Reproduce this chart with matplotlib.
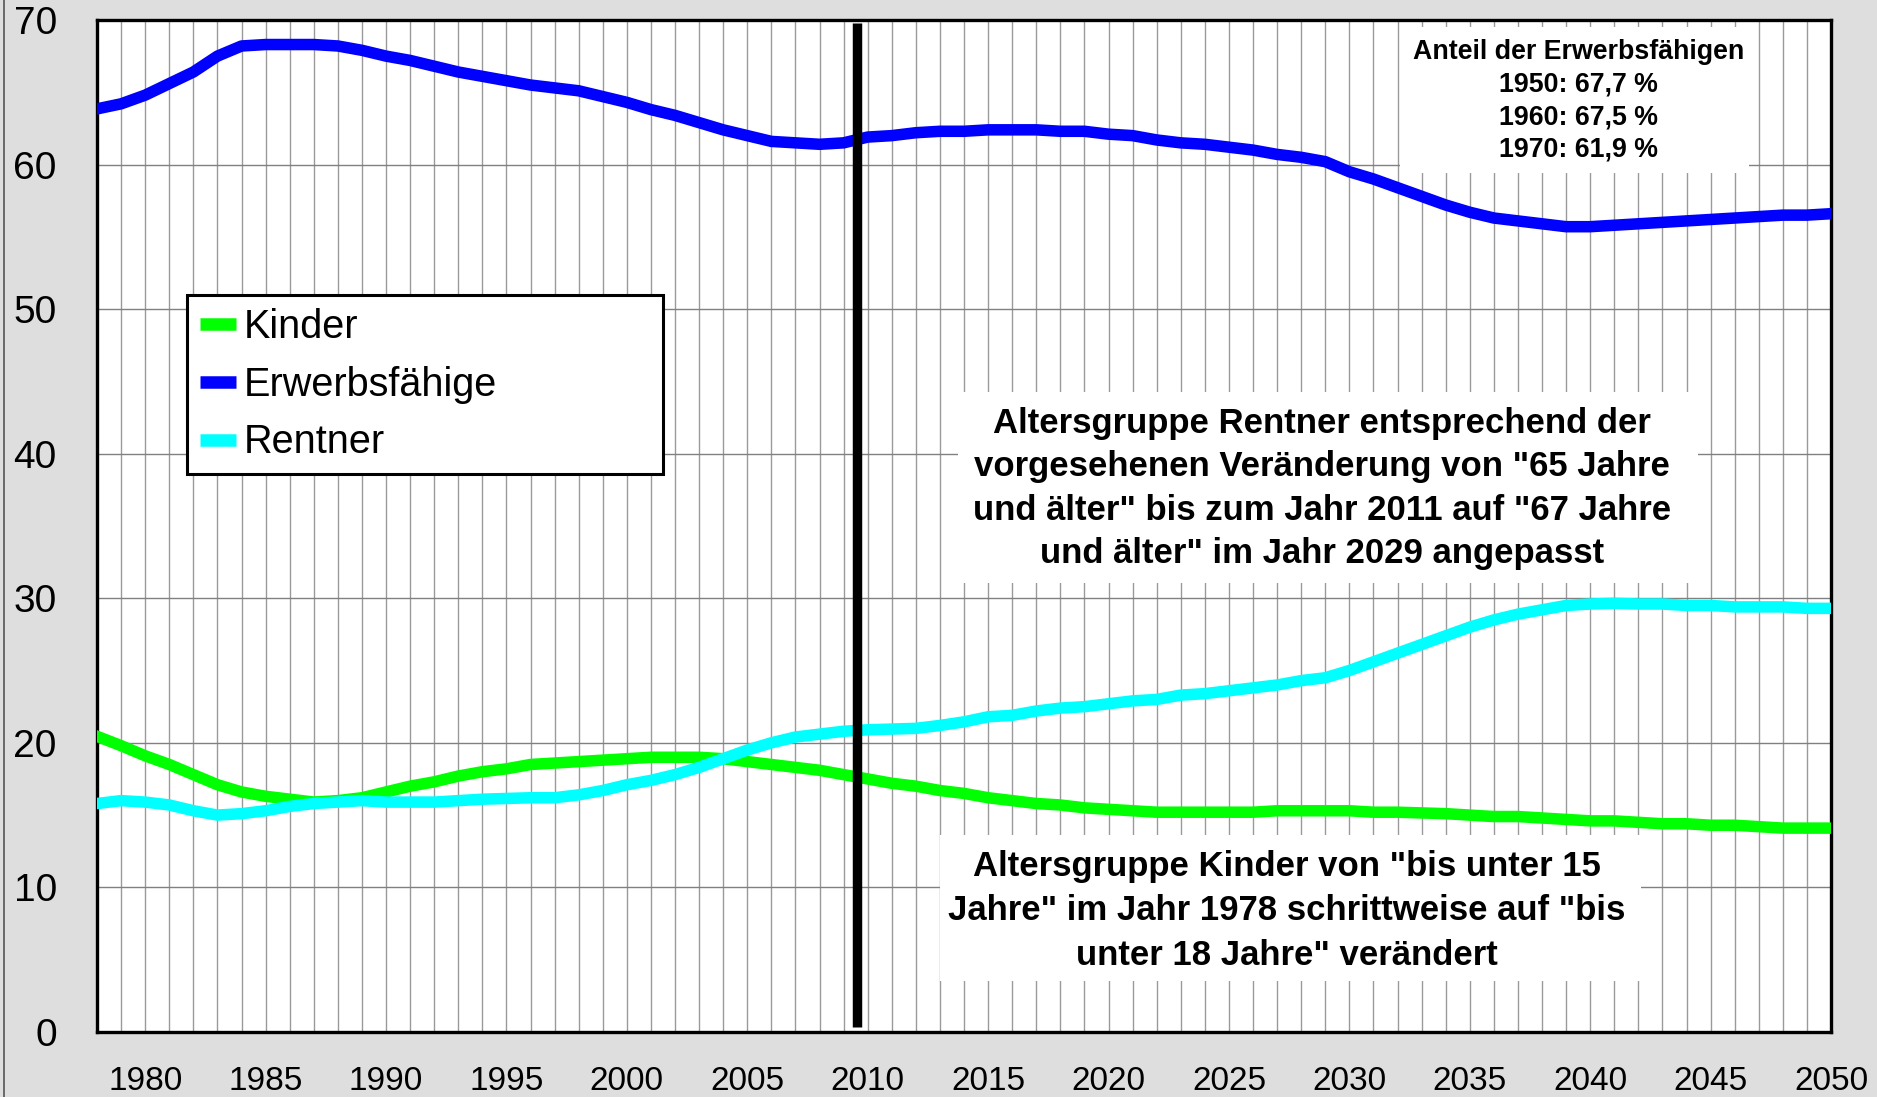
import numpy as np
import matplotlib
matplotlib.use("Agg")
import matplotlib.pyplot as plt
from matplotlib import font_manager
from matplotlib.patches import Rectangle
from matplotlib.lines import Line2D

# Anteile der Altersgruppen an der Bevölkerung in %
jahre = list(range(1978, 2051))

kinder = [20.45, 19.8, 19.1, 18.5, 17.8, 17.1, 16.6, 16.3, 16.1, 15.9,
          16.0, 16.2, 16.6, 17.0, 17.3, 17.7, 18.0, 18.2, 18.5, 18.6,
          18.7, 18.8, 18.9, 19.0, 19.0, 19.0, 18.9, 18.7, 18.5, 18.3,
          18.1, 17.8, 17.5, 17.2, 17.0, 16.7, 16.5, 16.2, 16.0, 15.8,
          15.7, 15.5, 15.4, 15.3, 15.2, 15.2, 15.2, 15.2, 15.2, 15.3,
          15.3, 15.3, 15.3, 15.2, 15.2, 15.15, 15.1, 15.0, 14.9, 14.9,
          14.8, 14.7, 14.6, 14.6, 14.5, 14.4, 14.4, 14.3, 14.3, 14.2,
          14.1, 14.1, 14.1]

erwerbsfaehige = [63.85, 64.2, 64.8, 65.6, 66.4, 67.5, 68.2, 68.3, 68.3, 68.3,
                  68.2, 67.9, 67.5, 67.2, 66.8, 66.4, 66.1, 65.8, 65.5, 65.3,
                  65.1, 64.7, 64.3, 63.8, 63.4, 62.9, 62.4, 62.0, 61.6, 61.5,
                  61.4, 61.5, 61.9, 62.0, 62.2, 62.3, 62.3, 62.4, 62.4, 62.4,
                  62.3, 62.3, 62.1, 62.0, 61.7, 61.5, 61.4, 61.2, 61.0, 60.7,
                  60.5, 60.2, 59.5, 59.0, 58.4, 57.8, 57.2, 56.7, 56.3, 56.1,
                  55.9, 55.7, 55.7, 55.8, 55.9, 56.0, 56.1, 56.2, 56.3, 56.4,
                  56.5, 56.5, 56.6]

rentner = [15.8, 16.0, 15.9, 15.7, 15.3, 15.0, 15.1, 15.3, 15.6, 15.8,
           15.9, 16.0, 15.9, 15.9, 15.9, 16.0, 16.1, 16.15, 16.2, 16.2,
           16.4, 16.7, 17.1, 17.4, 17.8, 18.3, 18.9, 19.5, 20.0, 20.4,
           20.6, 20.8, 20.9, 20.95, 21.0, 21.2, 21.45, 21.8, 21.9, 22.2,
           22.4, 22.5, 22.7, 22.9, 23.0, 23.3, 23.4, 23.6, 23.8, 24.0,
           24.3, 24.5, 25.0, 25.6, 26.2, 26.8, 27.4, 28.0, 28.5, 28.9,
           29.2, 29.5, 29.6, 29.65, 29.6, 29.6, 29.5, 29.5, 29.4, 29.4,
           29.4, 29.3, 29.3]

x_ticks = [1980, 1985, 1990, 1995, 2000, 2005, 2010, 2015, 2020, 2025,
           2030, 2035, 2040, 2045, 2050]
y_ticks = [0, 10, 20, 30, 40, 50, 60, 70]
trennjahr = 2009.57

text_anteil = "Anteil der Erwerbsfähigen\n1950: 67,7 %\n1960: 67,5 %\n1970: 61,9 %"
text_rentner = ("Altersgruppe Rentner entsprechend der\n"
                "vorgesehenen Veränderung von \"65 Jahre\n"
                "und älter\" bis zum Jahr 2011 auf \"67 Jahre\n"
                "und älter\" im Jahr 2029 angepasst")
text_kinder = ("Altersgruppe Kinder von \"bis unter 15\n"
               "Jahre\" im Jahr 1978 schrittweise auf \"bis\n"
               "unter 18 Jahre\" verändert")

plt.rcParams['font.family'] = ['Liberation Sans', 'DejaVu Sans']

# narrow font for the long notes, if available
names = {f.name for f in font_manager.fontManager.ttflist}
if 'Liberation Sans Narrow' in names:
    note_font = ['Liberation Sans Narrow', 'Liberation Sans']
    note_size = 32.5
    note_ls = 1.1
else:
    note_font = ['Liberation Sans', 'DejaVu Sans']
    note_size = 25
    note_ls = 1.4

BG = '#dedede'
fig = plt.figure(figsize=(18.77, 10.97), dpi=100, facecolor=BG)
ax = fig.add_axes([0.0517, 0.0593, 0.9238, 0.9225])
ax.set_facecolor('white')

ax.plot(jahre, kinder, color='#00ff00', lw=8.3, label='Kinder', zorder=3)
ax.plot(jahre, erwerbsfaehige, color='#0000ff', lw=8.3, label='Erwerbsfähige', zorder=3)
ax.plot(jahre, rentner, color='#00ffff', lw=8.3, label='Rentner', zorder=3)

# Trennlinie
ax.plot([trennjahr, trennjahr], [0.35, 69.8], color='black', lw=6.8,
        solid_capstyle='butt', zorder=5)

ax.set_xlim(1978, 2050)
ax.set_ylim(0, 70)
ax.set_xticks(x_ticks)
ax.set_xticks(range(1978, 2051), minor=True)
ax.set_yticks(y_ticks)
ax.tick_params(axis='x', which='both', length=0, pad=24.5, labelsize=24)
ax.tick_params(axis='y', length=0, pad=29, labelsize=28)
ax.set_axisbelow(True)
ax.grid(axis='x', which='both', color='#9a9a9a', lw=1.0)
ax.grid(axis='y', which='major', color='#808080', lw=1.0)
for s in ax.spines.values():
    s.set_linewidth(2.4)
    s.set_color('black')

# white boxes behind the notes
boxes = [(2032.1, 59.4, 14.5, 10.1), (2013.76, 31.05, 30.7, 13.25), (2013.0, 3.5, 29.1, 10.1)]
for bx, by, bw, bh in boxes:
    ax.add_patch(Rectangle((bx, by), bw, bh, facecolor='white', edgecolor='none', zorder=1.5))

ax.text(2039.5, 64.4, text_anteil, ha='center', va='center', fontsize=19.3,
        fontweight='bold', linespacing=1.32, zorder=6)
ax.text(2028.85, 37.6, text_rentner, ha='center', va='center', fontsize=note_size,
        fontweight='bold', family=note_font, linespacing=note_ls, zorder=6)
ax.text(2027.4, 8.4, text_kinder, ha='center', va='center', fontsize=note_size,
        fontweight='bold', family=note_font, linespacing=note_ls * 1.03, zorder=6)

leg = ax.legend(loc='upper left', bbox_to_anchor=(0.0519, 0.553, 0.2745, 0.175),
                mode='expand', borderaxespad=0, fontsize=28.5, frameon=True,
                fancybox=False, handlelength=0.92, handletextpad=0.2,
                borderpad=0.32, labelspacing=0.5)
leg.get_frame().set_edgecolor('black')
leg.get_frame().set_linewidth(2.2)
leg.get_frame().set_alpha(1)
for h in leg.get_lines():
    h.set_linewidth(9)
    h.set_solid_capstyle('butt')

# left figure border and cut-off unit label
fig.add_artist(Line2D([4 / 1877, 4 / 1877], [0, 1], color='#555555', lw=1.2))
fig.text(160 / 1877, 1 + 12 / 1097, '%', fontsize=28, ha='center', va='baseline')

fig.savefig('out.png', dpi=100, facecolor=BG)
